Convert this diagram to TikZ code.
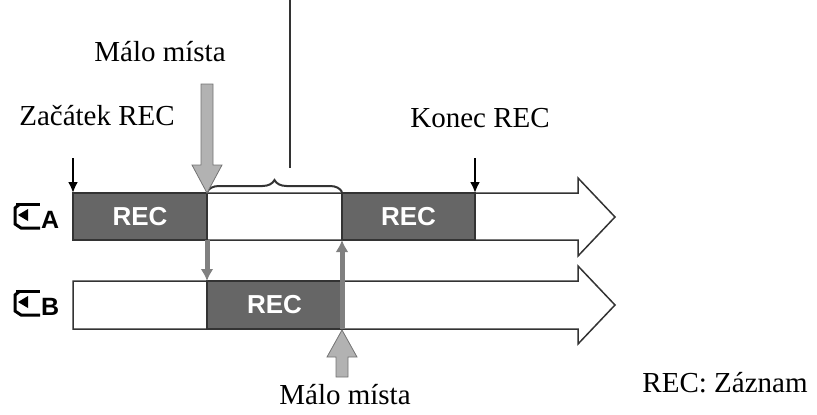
\documentclass[tikz,border=0pt]{standalone}
\usepackage{fontspec}
\setmainfont{Liberation Serif}
\setsansfont{Liberation Sans}
\usetikzlibrary{arrows.meta,decorations.pathreplacing}
\begin{document}
\begin{tikzpicture}[x=1pt,y=-1pt,
    recbox/.style={draw=black!80, fill=black!60, line width=1.5pt, outer sep=0pt},
    emptybox/.style={draw=black!80, fill=white, line width=1.5pt},
    rectext/.style={text=white, font=\sffamily\bfseries\fontsize{26}{26}\selectfont},
    lbl/.style={font=\fontsize{29}{29}\selectfont},
    blackarrow/.style={-{Latex[length=11pt,width=10pt]}, line width=2.2pt},
    grayarrow/.style={-{Latex[length=12pt,width=13pt]}, line width=5pt, draw=black!50},
    bigarrow/.style={draw=black!55, fill=black!30, line width=0.8pt}]
    \useasboundingbox (0,0) rectangle (817,415);
    % Track A
    \draw[emptybox] (73,193) -- (578,193) -- (578,178) -- (615,217) -- (578,256) -- (578,240) -- (73,240) -- cycle;
    \node[recbox, minimum width=134pt, minimum height=47pt, inner sep=0pt, anchor=north west] (recA1) at (73,193) {};
    \node[rectext] at (recA1) {REC};
    \node[recbox, minimum width=133pt, minimum height=47pt, inner sep=0pt, anchor=north west] (recA2) at (342,193) {};
    \node[rectext] at (recA2) {REC};
    % Track B
    \draw[emptybox] (73,281) -- (578,281) -- (578,266) -- (615,305) -- (578,344) -- (578,329) -- (73,329) -- cycle;
    \node[recbox, minimum width=135pt, minimum height=48pt, inner sep=0pt, anchor=north west] (recB) at (207,281) {};
    \node[rectext] at (recB) {REC};
    % Track icons
    \foreach \y/\l in {217/A,304/B}
    {
        \draw[line width=3pt] (16,\y-13) -- (40,\y-13);
        \draw[line width=3pt] (20,\y-13) -- (15,\y-9) -- (15,\y+7) -- (21,\y+11) -- (40,\y+11);
        \fill (18,\y-2) -- (28,\y-8) -- (28,\y+4) -- cycle;
        \node[font=\sffamily\bfseries\fontsize{25}{25}\selectfont, anchor=west, inner sep=0pt] at (41,\y+3) {\l};
    }
    % Labels
    \node[lbl] (start) at (97,116) {Začátek REC};
    \node[lbl] (stop) at (480,118) {Konec REC};
    \node[lbl] (lowtop) at (160,52) {Málo místa};
    \node[lbl] (lowbot) at (345,395) {Málo místa};
    \node[lbl] (legend) at (725,383) {REC: Záznam};
    \coordinate (startTop) at (73,158);
    \coordinate (stopTop) at (475,158);
    \draw[blackarrow] (startTop) -- (recA1.north west);
    \draw[blackarrow] (stopTop) -- (recA2.north east);
    % Brace
    \draw[line width=2pt, black!80, decorate, decoration={brace, amplitude=12pt}] (207,192) -- (342,192);
    \draw[line width=2pt, black!80] (290,0) -- (290,168);
    % Low space arrows
    \draw[bigarrow] (201,84) -- (213,84) -- (213,165) -- (222,165) -- (207,193) -- (192,165) -- (201,165) -- cycle;
    \draw[bigarrow] (336,377) -- (348,377) -- (348,357) -- (357,357) -- (342,330) -- (327,357) -- (336,357) -- cycle;
    \draw[grayarrow] (recA1.south east) -- (recA1.south east |- recB.north);
    \draw[grayarrow] (recB.south east) -- (recB.east |- recA2.south);
\end{tikzpicture}
\end{document}
